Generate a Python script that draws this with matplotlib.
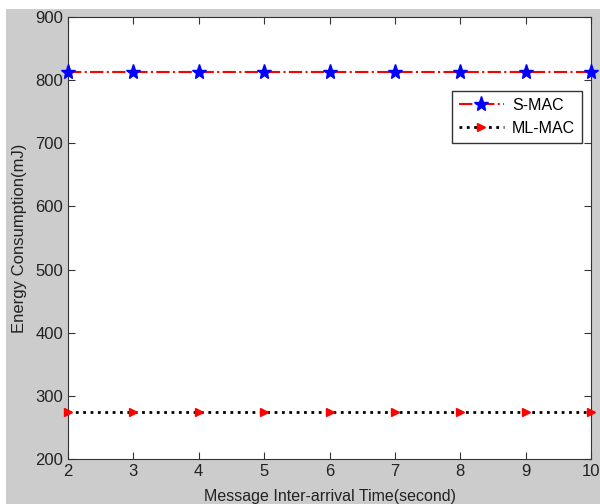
import matplotlib
matplotlib.use("Agg")
import matplotlib.pyplot as plt
from matplotlib.patches import Rectangle

# --- data ---
arrival_time = [2, 3, 4, 5, 6, 7, 8, 9, 10]
smac_energy = [813, 813, 813, 813, 813, 813, 813, 813, 813]
mlmac_energy = [274, 274, 274, 274, 274, 274, 274, 274, 274]
y_ticks = [200, 300, 400, 500, 600, 700, 800, 900]

plt.rcParams['font.family'] = ['Liberation Sans', 'DejaVu Sans']

fig = plt.figure(figsize=(6.0, 5.04), dpi=100, facecolor='white')
# grey matlab-style figure background
fig.patches.append(Rectangle((6 / 600, 0), 1, (504 - 9) / 504,
                             transform=fig.transFigure, facecolor='#cccccc',
                             edgecolor='none', zorder=-1))

ax = fig.add_axes([68 / 600, 45 / 504, 523 / 600, 442 / 504])
ax.set_zorder(1)
ax.plot(arrival_time, smac_energy, color='red', linestyle='-.', linewidth=1.5,
        marker='*', markersize=11, markerfacecolor='blue', markeredgecolor='blue',
        label='S-MAC', clip_on=False, zorder=3)
ax.plot(arrival_time, mlmac_energy, color='black', linestyle=':', linewidth=2,
        marker='>', markersize=6, markerfacecolor='red', markeredgecolor='red',
        label='ML-MAC', clip_on=False, zorder=3)

ax.set_xlim(2, 10)
ax.set_ylim(200, 900)
ax.set_xticks(arrival_time)
ax.set_yticks(y_ticks)
ax.tick_params(direction='in', top=True, right=True, labelsize=12, length=5,
               colors='#333333', labelcolor='#222222')
for s in ax.spines.values():
    s.set_color('#333333')

ax.set_xlabel('Message Inter-arrival Time(second)', fontsize=11.5, labelpad=7,
              color='#222222')
ax.set_ylabel('Energy Consumption(mJ)', fontsize=12, labelpad=6, color='#222222')

leg = ax.legend(loc='upper right', bbox_to_anchor=(0.983, 0.833), fontsize=11.5,
                fancybox=False, framealpha=1, edgecolor='#333333',
                handlelength=2.8, handletextpad=0.5, borderpad=0.45,
                labelspacing=0.5, borderaxespad=0)
leg.get_frame().set_linewidth(1)

fig.savefig('out.png', dpi=100, facecolor=fig.get_facecolor())
